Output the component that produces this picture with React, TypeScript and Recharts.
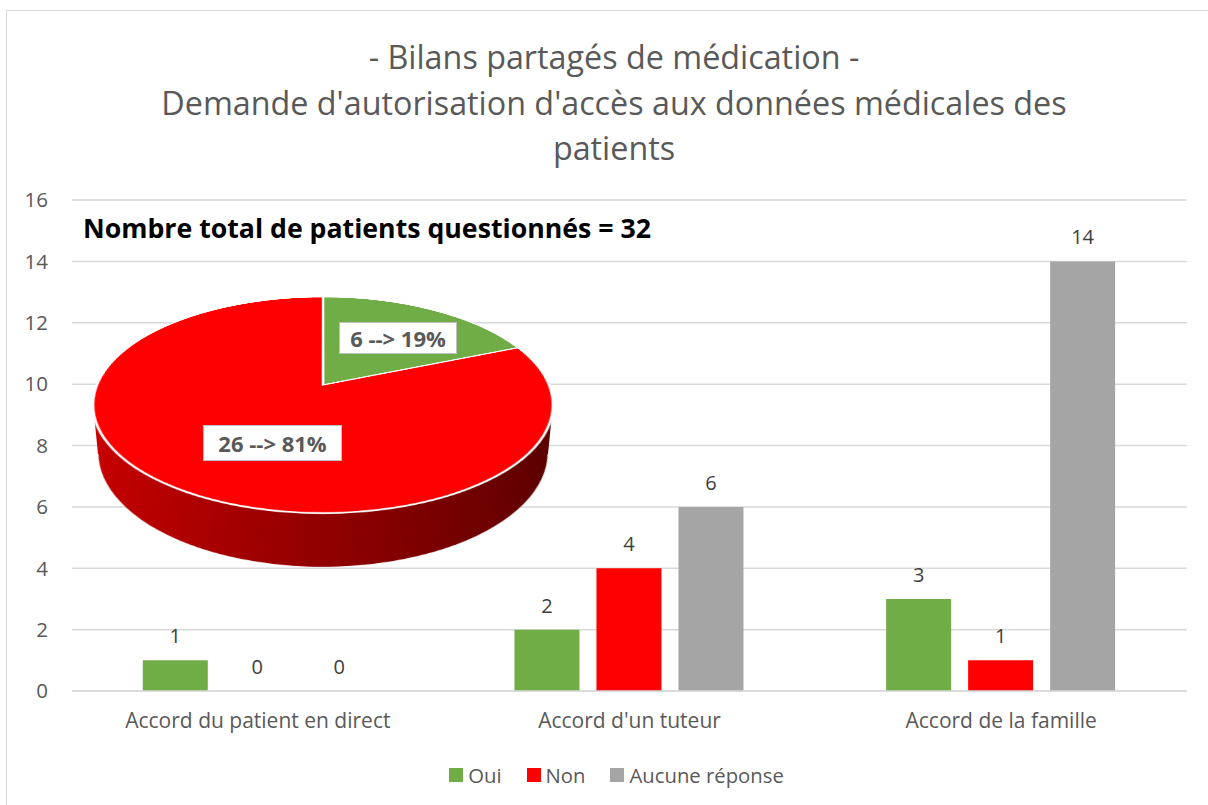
import React from "react";
import { BarChart, Bar, XAxis, YAxis, CartesianGrid, Legend, LabelList, PieChart, Pie, Cell } from "recharts";

const categories = ["Accord du patient en direct", "Accord d'un tuteur", "Accord de la famille"];
const ouiValues = [1, 2, 3];
const nonValues = [0, 4, 1];
const aucuneValues = [0, 6, 14];
const yTicks = [0, 2, 4, 6, 8, 10, 12, 14, 16];

const seriesKeys = ["oui", "non", "aucune"];
const seriesNames = ["Oui", "Non", "Aucune réponse"];
const seriesColors = ["#70AD47", "#FF0000", "#A5A5A5"];

const pieNames = ["Oui", "Non"];
const pieValues = [6, 26];
const pieColors = ["#70AD47", "#FF0000"];

const titleLines = [
  "- Bilans partagés de médication -",
  "Demande d'autorisation d'accès aux données médicales des",
  "patients",
];

const FONT = "'Open Sans', sans-serif";

const data = categories.map((c, i) => ({
  name: c,
  oui: ouiValues[i],
  non: nonValues[i],
  aucune: aucuneValues[i],
}));

const pieData = pieNames.map((n, i) => ({ name: n, value: pieValues[i] }));
const pieTotal = pieValues.reduce((a, b) => a + b, 0);
const pieLabel = (v: number) => `${v} --> ${Math.round((v / pieTotal) * 100)}%`;

const LegendContent = (props: any) => {
  const payload = [...(props.payload || [])].sort(
    (a: any, b: any) => seriesNames.indexOf(a.value) - seriesNames.indexOf(b.value)
  );
  return (
    <div style={{ display: "flex", justifyContent: "center", alignItems: "center", height: 24, paddingLeft: 46, fontFamily: FONT, fontSize: 20.3, color: "#595959" }}>
      {payload.map((p: any, i: number) => (
        <div key={i} style={{ display: "flex", alignItems: "center", marginRight: i < payload.length - 1 ? 25 : 0 }}>
          <span style={{ display: "inline-block", width: 14, height: 14, background: p.color, marginRight: 5 }} />
          <span>{p.value}</span>
        </div>
      ))}
    </div>
  );
};

const renderValueLabel = (props: any) => {
  const { x, y, width, value } = props;
  return (
    <text x={Number(x) + Number(width) / 2} y={Number(y) - 17} textAnchor="middle" fill="#404040" fontSize={20} fontFamily={FONT}>
      {value}
    </text>
  );
};

const labelBox: React.CSSProperties = {
  position: "absolute",
  background: "#FFFFFF",
  border: "1.5px solid #BFBFBF",
  fontFamily: FONT,
  fontWeight: 700,
  fontSize: 22,
  color: "#595959",
  display: "flex",
  alignItems: "center",
  justifyContent: "center",
  boxSizing: "border-box",
};

const PERSP = "perspective(1082px) rotateX(62.5deg)";

export default function App() {
  return (
    <div style={{ position: "absolute", left: 0, top: 0, width: 1208, height: 805, background: "#FFFFFF", overflow: "hidden" }}>
      <div style={{ position: "absolute", left: 6, top: 10, width: 1220, height: 820, borderLeft: "1.5px solid #D9D9D9", borderTop: "1.5px solid #D9D9D9" }} />
      <div style={{ position: "absolute", left: 0, top: 0 }}>
        <BarChart width={1208} height={805} data={data} margin={{ top: 200, right: 21, left: 0, bottom: 26 }} barCategoryGap="19.05%" barGap={17}>
          <CartesianGrid vertical={false} stroke="#D9D9D9" strokeWidth={1.5} />
          <XAxis dataKey="name" height={64} axisLine={{ stroke: "#D9D9D9", strokeWidth: 1.5 }} tickLine={false} tickMargin={16} tick={{ fill: "#595959", fontSize: 21, fontFamily: FONT }} interval={0} />
          <YAxis width={72} domain={[0, 16]} ticks={yTicks} axisLine={false} tickLine={false} tickMargin={18} tick={{ fill: "#595959", fontSize: 20.5, fontFamily: FONT }} />
          <Legend verticalAlign="bottom" content={<LegendContent />} wrapperStyle={{ bottom: 18 }} />
          {seriesKeys.map((k, i) => (
            <Bar key={k} dataKey={k} name={seriesNames[i]} fill={seriesColors[i]} minPointSize={0.01} isAnimationActive={false}>
              <LabelList dataKey={k} position="top" content={renderValueLabel} />
            </Bar>
          ))}
        </BarChart>
      </div>

      <div style={{ position: "absolute", left: 14, top: 34, width: 1200, textAlign: "center", fontFamily: FONT, fontWeight: 400, fontSize: 32.3, lineHeight: "45.5px", color: "#595959" }}>
        {titleLines.map((l, i) => (
          <div key={i}>{l}</div>
        ))}
      </div>

      <div style={{ position: "absolute", left: 83, top: 213, fontFamily: FONT, fontWeight: 700, fontSize: 26.7, lineHeight: "30px", color: "#000000", whiteSpace: "nowrap" }}>
        {`Nombre total de patients questionnés = ${pieTotal}`}
      </div>

      {/* 3D pie: side wall */}
      <div style={{ position: "absolute", left: 93, top: 404, width: 460, height: 50, background: "linear-gradient(to right, #C80000, #5A0000)", clipPath: "polygon(0 0, 100% 0, 455px 100%, 5px 100%)" }} />
      <div style={{ position: "absolute", left: 93, top: 155, width: 460, height: 460, transform: `${PERSP} translateZ(-54px)` }}>
        <PieChart width={460} height={460} margin={{ top: 0, right: 0, bottom: 0, left: 0 }}>
          <defs>
            <linearGradient id="pieSide" x1="0" y1="0" x2="460" y2="0" gradientUnits="userSpaceOnUse">
              <stop offset="0%" stopColor="#C80000" />
              <stop offset="100%" stopColor="#5A0000" />
            </linearGradient>
          </defs>
          <Pie data={pieData} dataKey="value" cx={230} cy={230} outerRadius={226} startAngle={90} endAngle={-270} stroke="none" isAnimationActive={false}>
            {pieData.map((d, i) => (
              <Cell key={i} fill="url(#pieSide)" />
            ))}
          </Pie>
        </PieChart>
      </div>
      {/* 3D pie: top face */}
      <div style={{ position: "absolute", left: 93, top: 155, width: 460, height: 460, transform: PERSP }}>
        <PieChart width={460} height={460} margin={{ top: 0, right: 0, bottom: 0, left: 0 }}>
          <Pie data={pieData} dataKey="value" cx={230} cy={230} outerRadius={226} startAngle={90} endAngle={-270} stroke="#FFFFFF" strokeWidth={2.5} isAnimationActive={false}>
            {pieData.map((d, i) => (
              <Cell key={i} fill={pieColors[i]} />
            ))}
          </Pie>
        </PieChart>
      </div>

      <div style={{ ...labelBox, left: 339, top: 322, width: 118, height: 32 }}>{pieLabel(pieValues[0])}</div>
      <div style={{ ...labelBox, left: 203, top: 425, width: 139, height: 36 }}>{pieLabel(pieValues[1])}</div>
    </div>
  );
}
